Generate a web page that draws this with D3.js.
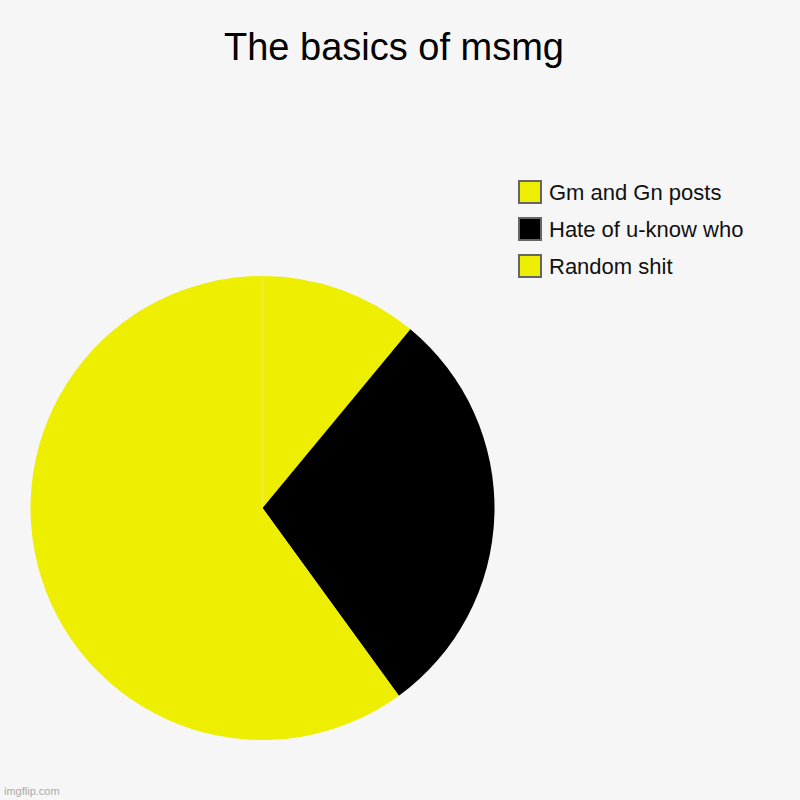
<!DOCTYPE html>
<html>
<head>
<meta charset="utf-8">
<script src="https://cdn.jsdelivr.net/npm/d3@7"></script>
<style>
  html, body { margin: 0; padding: 0; background: #f6f6f6; }
  svg { display: block; font-family: "Liberation Sans", Arial, sans-serif; }
</style>
</head>
<body>
<div id="chart"></div>
<script>
// slice labels and values (percent)
const labels = ["Gm and Gn posts", "Hate of u-know who", "Random shit"];
const values = [11, 29, 60];
const colors = ["#eeee00", "#000000", "#eeee00"];

const width = 800, height = 800;
const cx = 262.5, cy = 508, radius = 232;

const svg = d3.select("#chart").append("svg")
    .attr("width", width)
    .attr("height", height);

svg.append("rect")
    .attr("width", width)
    .attr("height", height)
    .attr("fill", "#f6f6f6");

// Title
svg.append("text")
    .attr("x", 394)
    .attr("y", 60)
    .attr("text-anchor", "middle")
    .attr("font-size", 38)
    .attr("fill", "#000")
    .text("The basics of msmg");

// Pie
const pie = d3.pie().sort(null).value(d => d.value);
const arc = d3.arc().innerRadius(0).outerRadius(radius);
const data = labels.map((l, i) => ({label: l, value: values[i], color: colors[i]}));

svg.append("g")
    .attr("transform", `translate(${cx},${cy})`)
  .selectAll("path")
  .data(pie(data))
  .join("path")
    .attr("d", arc)
    .attr("fill", d => d.data.color);

// Legend
const legend = svg.append("g")
    .attr("transform", "translate(519,181)")
  .selectAll("g")
  .data(data)
  .join("g")
    .attr("transform", (d, i) => `translate(0,${i * 37})`);

legend.append("rect")
    .attr("width", 22)
    .attr("height", 22)
    .attr("fill", d => d.color)
    .attr("stroke", "#666")
    .attr("stroke-width", 2);

legend.append("text")
    .attr("x", 30)
    .attr("y", 19)
    .attr("font-size", 22)
    .attr("fill", "#111")
    .text(d => d.label);

// watermark
svg.append("text")
    .attr("x", 4)
    .attr("y", 795)
    .attr("font-size", 11)
    .attr("fill", "#aaa")
    .text("imgflip.com");
</script>
</body>
</html>
